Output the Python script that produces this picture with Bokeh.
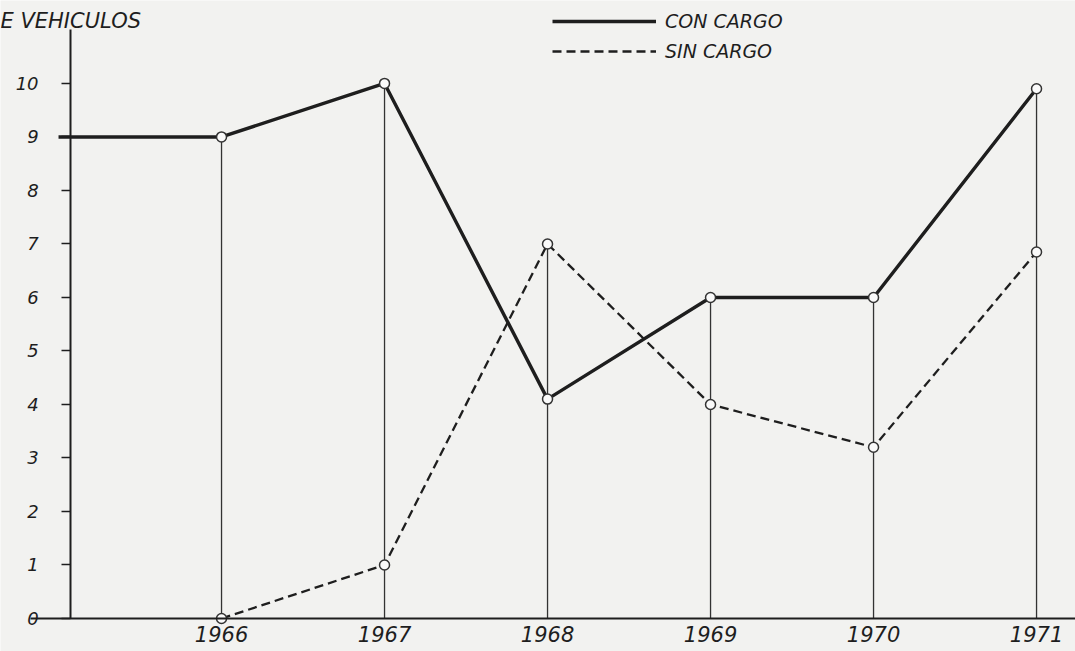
from bokeh.plotting import figure
from bokeh.models import FixedTicker, Label, Legend, LegendItem
from bokeh.embed import file_html
from bokeh.resources import INLINE

# ---- data ----
years = [1966, 1967, 1968, 1969, 1970, 1971]
year_labels = ["1966", "1967", "1968", "1969", "1970", "1971"]
con_cargo = [9, 10, 4.1, 6, 6, 9.9]
sin_cargo = [0, 1, 7, 4, 3.2, 6.85]
# the "con cargo" line enters from the previous year (off the left edge)
lead_year = [1965]
lead_con = [9]
y_ticks = list(range(0, 11))
y_tick_labels = [str(v) for v in y_ticks]

title_text = "E VEHICULOS"
series_names = ["CON CARGO", "SIN CARGO"]

# ---- style ----
INK = "#1e1e1e"
PAPER = "#f2f2f0"
FONT = "DejaVu Sans"

X0, X1 = 1964.644, 1971.239
Y0, Y1 = -0.617, 11.55
Y_AXIS_AT = 1965.074

p = figure(width=1075, height=651,
           x_range=(X0, X1), y_range=(Y0, Y1),
           output_backend="svg", toolbar_location=None,
           min_border_left=0, min_border_right=0,
           min_border_top=0, min_border_bottom=0)
p.background_fill_color = PAPER
p.border_fill_color = PAPER
p.outline_line_color = None
p.xgrid.visible = False
p.ygrid.visible = False

# drop lines from the axis to the highest point of each year
tops = [max(a, b) for a, b in zip(con_cargo, sin_cargo)]
p.segment(x0=years, y0=[0] * len(years), x1=years, y1=tops,
          line_color="#333333", line_width=1.3)

r_con = p.line(lead_year + years, lead_con + con_cargo,
               line_color=INK, line_width=3.4)
r_sin = p.line(years, sin_cargo, line_color=INK, line_width=2.3,
               line_dash="9 5")

p.scatter(years, con_cargo, size=10, marker="circle",
          fill_color="#fafafa", line_color="#333333", line_width=1.5)
p.scatter(years, sin_cargo, size=10, marker="circle",
          fill_color="#fafafa", line_color="#333333", line_width=1.5)

# ---- axes ----
xa = p.xaxis[0]
xa.fixed_location = 0
xa.ticker = FixedTicker(ticks=years)
xa.major_label_overrides = {y: l for y, l in zip(years, year_labels)}
xa.bounds = (1964.828, X1)
xa.axis_line_color = INK
xa.axis_line_width = 2
xa.major_tick_out = 0
xa.major_tick_in = 0
xa.minor_tick_out = 0
xa.minor_tick_in = 0
xa.major_label_standoff = 8
xa.major_label_text_font = FONT
xa.major_label_text_font_style = "italic"
xa.major_label_text_font_size = "21px"
xa.major_label_text_color = INK

ya = p.yaxis[0]
ya.fixed_location = Y_AXIS_AT
ya.ticker = FixedTicker(ticks=y_ticks)
ya.major_label_overrides = {v: l for v, l in zip(y_ticks, y_tick_labels)}
ya.bounds = (0, 11)
ya.axis_line_color = INK
ya.axis_line_width = 2
ya.major_tick_out = 9
ya.major_tick_in = 0
ya.major_tick_line_color = INK
ya.major_tick_line_width = 1.5
ya.minor_tick_out = 0
ya.minor_tick_in = 0
ya.major_label_standoff = 23
ya.major_label_text_font = FONT
ya.major_label_text_font_style = "italic"
ya.major_label_text_font_size = "18px"
ya.major_label_text_color = INK

# ---- title (cut at the left edge in the original) ----
p.add_layout(Label(x=X0, y=11.16, text=title_text,
                   text_font=FONT, text_font_style="italic",
                   text_font_size="21px", text_color=INK,
                   text_baseline="middle", text_align="left"))

# ---- legend ----
legend = Legend(items=[LegendItem(label=series_names[0], renderers=[r_con]),
                       LegendItem(label=series_names[1], renderers=[r_sin])],
                location=(552, 589),
                glyph_width=104, glyph_height=20, label_height=20,
                spacing=8, padding=0, margin=0,
                border_line_alpha=0, background_fill_alpha=0,
                label_standoff=9,
                label_text_font=FONT, label_text_font_style="italic",
                label_text_font_size="19px", label_text_color=INK)
p.add_layout(legend)

open("out.html", "w").write(file_html(p, INLINE))
